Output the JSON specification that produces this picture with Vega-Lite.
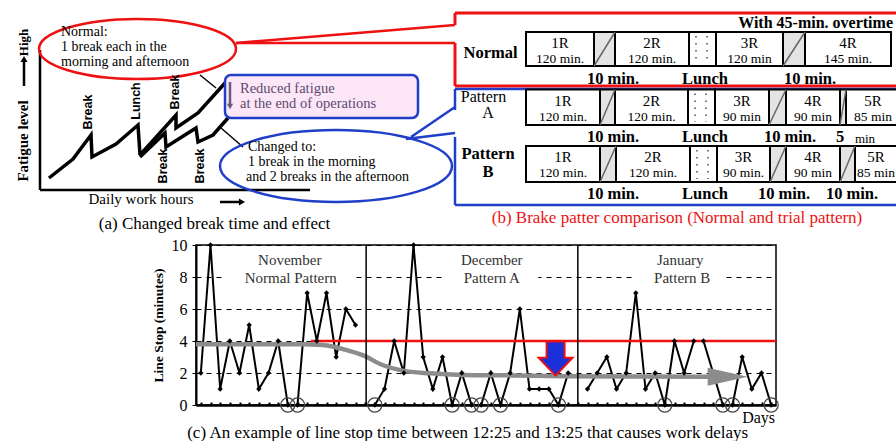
{
"$schema": "https://vega.github.io/schema/vega-lite/v6.json",
"padding": 0,
"background": "white",
"config": {"view": {"stroke": null}, "font": "Liberation Serif"},
"datasets": {
  "fatigue": [
    {"series": "common", "seq": 1, "x": 0.9, "y": 1.2},
    {"series": "common", "seq": 2, "x": 3.3, "y": 3.1},
    {"series": "common", "seq": 3, "x": 5.1, "y": 5.5},
    {"series": "common", "seq": 4, "x": 5.2, "y": 3.3},
    {"series": "common", "seq": 5, "x": 7.6, "y": 4.6},
    {"series": "common", "seq": 6, "x": 9.8, "y": 6.5},
    {"series": "common", "seq": 7, "x": 10.0, "y": 3.5},
    {"series": "normal", "seq": 1, "x": 10.0, "y": 3.5},
    {"series": "normal", "seq": 2, "x": 13.6, "y": 7.5},
    {"series": "normal", "seq": 3, "x": 13.6, "y": 6.2},
    {"series": "normal", "seq": 4, "x": 15.8, "y": 7.7},
    {"series": "normal", "seq": 5, "x": 18.5, "y": 10.7},
    {"series": "changed", "seq": 1, "x": 10.0, "y": 3.3},
    {"series": "changed", "seq": 2, "x": 12.5, "y": 5.7},
    {"series": "changed", "seq": 3, "x": 12.6, "y": 4.3},
    {"series": "changed", "seq": 4, "x": 15.6, "y": 6.2},
    {"series": "changed", "seq": 5, "x": 15.8, "y": 4.8},
    {"series": "changed", "seq": 6, "x": 17.3, "y": 5.5},
    {"series": "changed", "seq": 7, "x": 18.8, "y": 7.2}
  ],
  "segs": [
    {"row": "Normal", "seg": "1R", "kind": "work", "x": 7.3, "x2": 14.1, "y": 3.2, "y2": 6.6, "xm": 10.7, "mins": "120 min."},
    {"row": "Normal", "seg": "", "kind": "break", "x": 14.1, "x2": 16.2, "y": 3.2, "y2": 6.6},
    {"row": "Normal", "seg": "2R", "kind": "work", "x": 16.2, "x2": 23.6, "y": 3.2, "y2": 6.6, "xm": 19.9, "mins": "120 min."},
    {"row": "Normal", "seg": "", "kind": "lunch", "x": 23.6, "x2": 26.3, "y": 3.2, "y2": 6.6},
    {"row": "Normal", "seg": "3R", "kind": "work", "x": 26.3, "x2": 33.0, "y": 3.2, "y2": 6.6, "xm": 29.65, "mins": "120 min"},
    {"row": "Normal", "seg": "", "kind": "break", "x": 33.0, "x2": 35.2, "y": 3.2, "y2": 6.6},
    {"row": "Normal", "seg": "4R", "kind": "work", "x": 35.2, "x2": 43.8, "y": 3.2, "y2": 6.6, "xm": 39.5, "mins": "145 min."},
    {"row": "Pattern A", "seg": "1R", "kind": "work", "x": 7.3, "x2": 14.7, "y": 8.95, "y2": 12.5, "xm": 11.0, "mins": "120 min."},
    {"row": "Pattern A", "seg": "", "kind": "break", "x": 14.7, "x2": 16.2, "y": 8.95, "y2": 12.5},
    {"row": "Pattern A", "seg": "2R", "kind": "work", "x": 16.2, "x2": 23.5, "y": 8.95, "y2": 12.5, "xm": 19.85, "mins": "120 min."},
    {"row": "Pattern A", "seg": "", "kind": "lunch", "x": 23.5, "x2": 26.2, "y": 8.95, "y2": 12.5},
    {"row": "Pattern A", "seg": "3R", "kind": "work", "x": 26.2, "x2": 31.6, "y": 8.95, "y2": 12.5, "xm": 28.9, "mins": "90 min"},
    {"row": "Pattern A", "seg": "", "kind": "break", "x": 31.6, "x2": 33.3, "y": 8.95, "y2": 12.5},
    {"row": "Pattern A", "seg": "4R", "kind": "work", "x": 33.3, "x2": 38.7, "y": 8.95, "y2": 12.5, "xm": 36.0, "mins": "90 min"},
    {"row": "Pattern A", "seg": "", "kind": "break", "x": 38.7, "x2": 39.3, "y": 8.95, "y2": 12.5},
    {"row": "Pattern A", "seg": "5R", "kind": "work", "x": 39.3, "x2": 47, "y": 8.95, "y2": 12.5, "xm": 42.0, "mins": "85 min"},
    {"row": "Pattern B", "seg": "1R", "kind": "work", "x": 7.3, "x2": 14.7, "y": 14.6, "y2": 18.2, "xm": 11.0, "mins": "120 min."},
    {"row": "Pattern B", "seg": "", "kind": "break", "x": 14.7, "x2": 16.3, "y": 14.6, "y2": 18.2},
    {"row": "Pattern B", "seg": "2R", "kind": "work", "x": 16.3, "x2": 23.7, "y": 14.6, "y2": 18.2, "xm": 20.0, "mins": "120 min."},
    {"row": "Pattern B", "seg": "", "kind": "lunch", "x": 23.7, "x2": 26.4, "y": 14.6, "y2": 18.2},
    {"row": "Pattern B", "seg": "3R", "kind": "work", "x": 26.4, "x2": 31.7, "y": 14.6, "y2": 18.2, "xm": 29.05, "mins": "90 min."},
    {"row": "Pattern B", "seg": "", "kind": "break", "x": 31.7, "x2": 33.3, "y": 14.6, "y2": 18.2},
    {"row": "Pattern B", "seg": "4R", "kind": "work", "x": 33.3, "x2": 38.7, "y": 14.6, "y2": 18.2, "xm": 36.0, "mins": "90 min"},
    {"row": "Pattern B", "seg": "", "kind": "break", "x": 38.7, "x2": 40.2, "y": 14.6, "y2": 18.2},
    {"row": "Pattern B", "seg": "5R", "kind": "work", "x": 40.2, "x2": 47, "y": 14.6, "y2": 18.2, "xm": 42.3, "mins": "85 min"}
  ],
  "stops": [
    {"month": "Nov", "day": 0, "stop": 2}, {"month": "Nov", "day": 1, "stop": 10}, {"month": "Nov", "day": 2, "stop": 1},
    {"month": "Nov", "day": 3, "stop": 4}, {"month": "Nov", "day": 4, "stop": 2}, {"month": "Nov", "day": 5, "stop": 5},
    {"month": "Nov", "day": 6, "stop": 1}, {"month": "Nov", "day": 7, "stop": 2}, {"month": "Nov", "day": 8, "stop": 4},
    {"month": "Nov", "day": 9, "stop": 0}, {"month": "Nov", "day": 10, "stop": 0}, {"month": "Nov", "day": 11, "stop": 7},
    {"month": "Nov", "day": 12, "stop": 4}, {"month": "Nov", "day": 13, "stop": 7}, {"month": "Nov", "day": 14, "stop": 3},
    {"month": "Nov", "day": 15, "stop": 6}, {"month": "Nov", "day": 16, "stop": 5},
    {"month": "Dec", "day": 18, "stop": 0}, {"month": "Dec", "day": 19, "stop": 1}, {"month": "Dec", "day": 20, "stop": 4},
    {"month": "Dec", "day": 21, "stop": 2}, {"month": "Dec", "day": 22, "stop": 10}, {"month": "Dec", "day": 23, "stop": 3},
    {"month": "Dec", "day": 24, "stop": 1}, {"month": "Dec", "day": 25, "stop": 3}, {"month": "Dec", "day": 26, "stop": 0},
    {"month": "Dec", "day": 27, "stop": 2}, {"month": "Dec", "day": 28, "stop": 0}, {"month": "Dec", "day": 29, "stop": 0},
    {"month": "Dec", "day": 30, "stop": 2}, {"month": "Dec", "day": 31, "stop": 0}, {"month": "Dec", "day": 32, "stop": 2},
    {"month": "Dec", "day": 33, "stop": 6}, {"month": "Dec", "day": 34, "stop": 1}, {"month": "Dec", "day": 35, "stop": 1},
    {"month": "Dec", "day": 36, "stop": 1}, {"month": "Dec", "day": 37, "stop": 0}, {"month": "Dec", "day": 38, "stop": 2},
    {"month": "Jan", "day": 40, "stop": 1}, {"month": "Jan", "day": 41, "stop": 2}, {"month": "Jan", "day": 42, "stop": 3},
    {"month": "Jan", "day": 43, "stop": 1}, {"month": "Jan", "day": 44, "stop": 2}, {"month": "Jan", "day": 45, "stop": 7},
    {"month": "Jan", "day": 46, "stop": 1}, {"month": "Jan", "day": 47, "stop": 2}, {"month": "Jan", "day": 48, "stop": 0},
    {"month": "Jan", "day": 49, "stop": 4}, {"month": "Jan", "day": 50, "stop": 2}, {"month": "Jan", "day": 51, "stop": 4},
    {"month": "Jan", "day": 52, "stop": 4}, {"month": "Jan", "day": 54, "stop": 0}, {"month": "Jan", "day": 55, "stop": 0},
    {"month": "Jan", "day": 56, "stop": 3}, {"month": "Jan", "day": 57, "stop": 1}, {"month": "Jan", "day": 58, "stop": 2},
    {"month": "Jan", "day": 59, "stop": 0}
  ],
  "trend": [
    {"day": -0.5, "stop": 3.8}, {"day": 10.6, "stop": 3.8}, {"day": 12.6, "stop": 3.75}, {"day": 15.0, "stop": 3.45},
    {"day": 16.8, "stop": 3.1}, {"day": 18.8, "stop": 2.5}, {"day": 20.9, "stop": 2.15}, {"day": 23.7, "stop": 1.98},
    {"day": 27.1, "stop": 1.88}, {"day": 32.3, "stop": 1.85}, {"day": 37.5, "stop": 1.8}, {"day": 52.5, "stop": 1.77}
  ]
},
"spacing": 1,
"bounds": "full",
"vconcat": [
  {"hconcat": [
    {
      "width": 450, "height": 235,
      "encoding": {
        "x": {"field": "x", "type": "quantitative", "scale": {"domain": [-3.7, 41.3], "nice": false, "zero": false}, "axis": null},
        "y": {"field": "y", "type": "quantitative", "scale": {"domain": [-4.5, 19], "nice": false, "zero": false}, "axis": null}
      },
      "layer": [
        {"data": {"values": [{"x": 0, "y": 0, "x2": 0, "y2": 14}, {"x": 0, "y": 0, "x2": 27, "y2": 0}]},
         "mark": {"type": "rule", "color": "black", "strokeWidth": 2.5},
         "encoding": {"x2": {"field": "x2"}, "y2": {"field": "y2"}}},
        {"data": {"name": "fatigue"},
         "mark": {"type": "line", "color": "black", "strokeWidth": 3.5},
         "encoding": {"detail": {"field": "series", "type": "nominal"}, "order": {"field": "seq", "type": "quantitative"}}},
        {"data": {"values": [{"x": 16.0, "y": 11.5, "x2": 17.6, "y2": 10.2}, {"x": 18.1, "y": 6.2, "x2": 20.3, "y2": 4.3}]},
         "mark": {"type": "rule", "color": "black", "strokeWidth": 1.5},
         "encoding": {"x2": {"field": "x2"}, "y2": {"field": "y2"}}},
        {"data": {"values": [{"x": 9.75, "y": 14.1}]},
         "mark": {"type": "point", "shape": "M-1,0A1,0.305 0 1,1 1,0A1,0.305 0 1,1 -1,0Z", "size": 38809, "filled": false, "color": "#ee1111", "strokeWidth": 2.5, "opacity": 1},
         "encoding": {}},
        {"data": {"values": [{"x": 29.6, "y": 2.4}]},
         "mark": {"type": "point", "shape": "M-1,0A1,0.31 0 1,1 1,0A1,0.31 0 1,1 -1,0Z", "size": 53824, "filled": false, "color": "#1f3fc8", "strokeWidth": 2.5, "opacity": 1},
         "encoding": {}},
        {"data": {"values": [{"x": 18.5, "x2": 37.8, "y": 11.5, "y2": 7.2}]},
         "mark": {"type": "rect", "fill": "#fce6f7", "stroke": "#1f3fc8", "strokeWidth": 2.5, "cornerRadius": 6},
         "encoding": {"x2": {"field": "x2"}, "y2": {"field": "y2"}}},
        {"data": {"values": [{"x": 19.6, "y": 14.7, "x2": 41.5, "y2": 16.5}, {"x": 19.6, "y": 14.7, "x2": 41.5, "y2": 14.7}]},
         "mark": {"type": "rule", "color": "#ee1111", "strokeWidth": 2.5},
         "encoding": {"x2": {"field": "x2"}, "y2": {"field": "y2"}}},
        {"data": {"values": [{"x": 37.1, "y": 5.3, "x2": 41.5, "y2": 8.3}, {"x": 36.6, "y": 5.1, "x2": 41.5, "y2": 5.7}]},
         "mark": {"type": "rule", "color": "#1f3fc8", "strokeWidth": 2.5},
         "encoding": {"x2": {"field": "x2"}, "y2": {"field": "y2"}}},
        {"data": {"values": [{"x": -1.6, "y": 10.4, "x2": -1.6, "y2": 12.9}, {"x": 18.0, "y": -1.2, "x2": 20.0, "y2": -1.2}]},
         "mark": {"type": "rule", "color": "black", "strokeWidth": 2.5},
         "encoding": {"x2": {"field": "x2"}, "y2": {"field": "y2"}}},
        {"data": {"values": [{"x": -1.6, "y": 13.1}]},
         "mark": {"type": "point", "shape": "triangle-up", "size": 50, "filled": true, "color": "black", "opacity": 1},
         "encoding": {}},
        {"data": {"values": [{"x": 20.2, "y": -1.2}]},
         "mark": {"type": "point", "shape": "triangle-right", "size": 50, "filled": true, "color": "black", "opacity": 1},
         "encoding": {}},
        {"data": {"values": [{"x": 19.0, "y": 10.8, "x2": 19.0, "y2": 8.6}]},
         "mark": {"type": "rule", "color": "#6b5b7b", "strokeWidth": 2.5},
         "encoding": {"x2": {"field": "x2"}, "y2": {"field": "y2"}}},
        {"data": {"values": [{"x": 19.0, "y": 8.35}]},
         "mark": {"type": "point", "shape": "triangle-down", "size": 40, "filled": true, "color": "#6b5b7b", "opacity": 1},
         "encoding": {}},
        {"data": {"values": [
            {"t": "Break", "x": 4.8, "y": 7.8}, {"t": "Lunch", "x": 9.6, "y": 8.9}, {"t": "Break", "x": 13.5, "y": 9.8},
            {"t": "Break", "x": 12.3, "y": 2.4}, {"t": "Break", "x": 16.0, "y": 2.4}]},
         "mark": {"type": "text", "angle": 270, "font": "Liberation Sans", "fontWeight": "bold", "fontSize": 12.5, "color": "black"},
         "encoding": {"text": {"field": "t"}}},
        {"data": {"values": [
            {"t": "Normal:", "x": 2.1, "y": 15.8}, {"t": "1 break each in the", "x": 2.1, "y": 14.3}, {"t": "morning and afternoon", "x": 2.1, "y": 12.8},
            {"t": "Changed to:", "x": 20.8, "y": 4.35}, {"t": "1 break in the morning", "x": 20.8, "y": 2.85}, {"t": "and 2 breaks in the afternoon", "x": 20.6, "y": 1.35}]},
         "mark": {"type": "text", "align": "left", "fontSize": 14, "color": "black"},
         "encoding": {"text": {"field": "t"}}},
        {"data": {"values": [{"t": "Reduced fatigue", "x": 20.0, "y": 10.1}, {"t": "at the end of operations", "x": 20.0, "y": 8.6}]},
         "mark": {"type": "text", "align": "left", "fontSize": 14.5, "color": "#5b4b6e"},
         "encoding": {"text": {"field": "t"}}},
        {"data": {"values": [{"t": "Fatigue level", "x": -1.7, "y": 4.9}]},
         "mark": {"type": "text", "angle": 270, "fontWeight": "bold", "fontSize": 15, "color": "black"},
         "encoding": {"text": {"field": "t"}}},
        {"data": {"values": [{"t": "High", "x": -1.6, "y": 14.75}]},
         "mark": {"type": "text", "angle": 270, "fontWeight": "bold", "fontSize": 13, "color": "black"},
         "encoding": {"text": {"field": "t"}}},
        {"data": {"values": [{"t": "Daily work hours", "x": 10.1, "y": -0.9}]},
         "mark": {"type": "text", "fontSize": 15, "color": "black"},
         "encoding": {"text": {"field": "t"}}},
        {"data": {"values": [{"t": "(a) Changed break time and effect", "x": 17.45, "y": -3.4}]},
         "mark": {"type": "text", "fontSize": 17, "color": "black"},
         "encoding": {"text": {"field": "t"}}}
      ]
    },
    {
      "width": 446, "height": 235,
      "encoding": {
        "x": {"field": "x", "type": "quantitative", "scale": {"domain": [0, 44.6], "nice": false, "zero": false}, "axis": null},
        "y": {"field": "y", "type": "quantitative", "scale": {"domain": [0, 23.5], "nice": false, "zero": false, "reverse": true}, "axis": null}
      },
      "layer": [
        {"data": {"values": [{"x": 0.2, "y": 1.3, "x2": 45.5, "y2": 1.3}, {"x": 0.2, "y": 8.6, "x2": 45.5, "y2": 8.6}, {"x": 0.2, "y": 1.3, "x2": 0.2, "y2": 2.5}, {"x": 0.2, "y": 4.3, "x2": 0.2, "y2": 8.6}]},
         "mark": {"type": "rule", "color": "#ee1111", "strokeWidth": 3, "clip": true},
         "encoding": {"x2": {"field": "x2"}, "y2": {"field": "y2"}}},
        {"data": {"values": [{"x": 0.2, "y": 8.9, "x2": 45.5, "y2": 8.9}, {"x": 0.2, "y": 20.5, "x2": 45.5, "y2": 20.5}, {"x": 0.2, "y": 8.9, "x2": 0.2, "y2": 11.0}, {"x": 0.2, "y": 13.7, "x2": 0.2, "y2": 20.5}]},
         "mark": {"type": "rule", "color": "#1f3fc8", "strokeWidth": 2.5, "clip": true},
         "encoding": {"x2": {"field": "x2"}, "y2": {"field": "y2"}}},
        {"data": {"name": "segs"}, "transform": [{"filter": "datum.kind !== 'break'"}],
         "mark": {"type": "rect", "fill": "white", "stroke": "black", "strokeWidth": 2, "clip": true},
         "encoding": {"x2": {"field": "x2"}, "y2": {"field": "y2"}}},
        {"data": {"name": "segs"}, "transform": [{"filter": "datum.kind === 'break'"}],
         "mark": {"type": "rect", "fill": "#e4e4e4", "stroke": "black", "strokeWidth": 2, "clip": true},
         "encoding": {"x2": {"field": "x2"}, "y2": {"field": "y2"}}},
        {"data": {"name": "segs"}, "transform": [{"filter": "datum.kind === 'break'"}],
         "mark": {"type": "rule", "color": "#666666", "strokeWidth": 1.5, "clip": true},
         "encoding": {"y": {"field": "y2", "type": "quantitative", "scale": {"domain": [0, 23.5], "nice": false, "zero": false, "reverse": true}, "axis": null}, "x2": {"field": "x2"}, "y2": {"field": "y"}}},
        {"data": {"name": "segs"}, "transform": [{"filter": "datum.kind === 'lunch'"}],
         "mark": {"type": "rule", "color": "#777777", "strokeWidth": 2, "strokeDash": [1.5, 5.5], "xOffset": 7, "yOffset": 4, "y2Offset": -3},
         "encoding": {"y2": {"field": "y2"}}},
        {"data": {"name": "segs"}, "transform": [{"filter": "datum.kind === 'lunch'"}],
         "mark": {"type": "rule", "color": "#777777", "strokeWidth": 2, "strokeDash": [1.5, 5.5], "xOffset": -9, "yOffset": 4, "y2Offset": -3},
         "encoding": {"x": {"field": "x2", "type": "quantitative", "scale": {"domain": [0, 44.6], "nice": false, "zero": false}, "axis": null}, "y2": {"field": "y2"}}},
        {"data": {"name": "segs"}, "transform": [{"filter": "datum.kind === 'work'"}],
         "mark": {"type": "text", "fontSize": 15, "dy": 11, "color": "black", "clip": true},
         "encoding": {"x": {"field": "xm", "type": "quantitative", "scale": {"domain": [0, 44.6], "nice": false, "zero": false}, "axis": null}, "text": {"field": "seg"}}},
        {"data": {"name": "segs"}, "transform": [{"filter": "datum.kind === 'work'"}],
         "mark": {"type": "text", "fontSize": 13.5, "dy": 27, "color": "black", "clip": true},
         "encoding": {"x": {"field": "xm", "type": "quantitative", "scale": {"domain": [0, 44.6], "nice": false, "zero": false}, "axis": null}, "text": {"field": "mins"}}},
        {"data": {"values": [
            {"t": "10 min.", "x": 16.0, "y": 7.9}, {"t": "Lunch", "x": 25.2, "y": 7.9}, {"t": "10 min.", "x": 35.7, "y": 7.9},
            {"t": "10 min.", "x": 16.0, "y": 13.7}, {"t": "Lunch", "x": 25.2, "y": 13.7}, {"t": "10 min.", "x": 33.7, "y": 13.7}, {"t": "5", "x": 38.7, "y": 13.7},
            {"t": "10 min.", "x": 16.0, "y": 19.4}, {"t": "Lunch", "x": 25.2, "y": 19.4}, {"t": "10 min.", "x": 33.1, "y": 19.4}, {"t": "10 min.", "x": 39.9, "y": 19.4}]},
         "mark": {"type": "text", "fontSize": 16.5, "fontWeight": "bold", "color": "black"},
         "encoding": {"text": {"field": "t"}}},
        {"data": {"values": [{"t": "min", "x": 41.2, "y": 13.9}]},
         "mark": {"type": "text", "fontSize": 13, "color": "black"},
         "encoding": {"text": {"field": "t"}}},
        {"data": {"values": [{"t": "Pattern", "x": 3.05, "y": 9.7}, {"t": "A", "x": 3.5, "y": 11.3}]},
         "mark": {"type": "text", "fontSize": 16, "color": "black"},
         "encoding": {"text": {"field": "t"}}},
        {"data": {"values": [{"t": "Normal", "x": 3.75, "y": 5.3}, {"t": "Pattern", "x": 3.5, "y": 15.4}, {"t": "B", "x": 3.5, "y": 17.2}]},
         "mark": {"type": "text", "fontSize": 16.5, "fontWeight": "bold", "color": "black"},
         "encoding": {"text": {"field": "t"}}},
        {"data": {"values": [{"t": "With 45-min. overtime", "x": 44.0, "y": 2.3}]},
         "mark": {"type": "text", "fontSize": 16, "fontWeight": "bold", "align": "right", "color": "black"},
         "encoding": {"text": {"field": "t"}}},
        {"data": {"values": [{"t": "(b) Brake patter comparison (Normal and trial pattern)", "x": 22.4, "y": 21.8}]},
         "mark": {"type": "text", "fontSize": 17, "color": "#ee1111"},
         "encoding": {"text": {"field": "t"}}}
      ]
    }
  ], "spacing": 0, "bounds": "flush"},
  {"hconcat": [
    {"width": 1, "height": 160, "data": {"values": [{"v": 0}]}, "mark": {"type": "point", "opacity": 0}},
    {
      "width": 580, "height": 160,
      "view": {"stroke": "black", "strokeWidth": 1.5},
      "encoding": {
        "x": {"field": "day", "type": "quantitative", "scale": {"domain": [-0.5, 59.5], "nice": false, "zero": false},
              "axis": {"title": null, "labels": false, "grid": false, "domainWidth": 2.5, "domainColor": "black", "tickColor": "black", "tickSize": -3, "tickWidth": 2,
                       "values": [0,1,2,3,4,5,6,7,8,9,10,11,12,13,14,15,16,17,18,19,20,21,22,23,24,25,26,27,28,29,30,31,32,33,34,35,36,37,38,39,40,41,42,43,44,45,46,47,48,49,50,51,52,53,54,55,56,57,58,59]}},
        "y": {"field": "stop", "type": "quantitative", "scale": {"domain": [0, 10], "nice": false, "zero": false},
              "axis": {"title": "Line Stop (minutes)", "values": [0, 2, 4, 6, 8, 10], "grid": true, "gridColor": "black", "gridDash": [5, 5], "gridWidth": 1,
                       "domainWidth": 2, "domainColor": "black", "tickColor": "black", "tickSize": 4, "labelFont": "Liberation Serif", "labelFontSize": 16, "labelColor": "black", "labelPadding": 5,
                       "titleFont": "Liberation Serif", "titleFontSize": 13.5, "titleFontWeight": "bold", "titleColor": "black", "titlePadding": 6}}
      },
      "layer": [
        {"data": {"values": [{"day": 2.5, "day2": 15.95, "stop": 7.45, "stop2": 8.45}, {"day": 25.05, "day2": 34.9, "stop": 7.45, "stop2": 8.45}, {"day": 45.0, "day2": 54.2, "stop": 7.45, "stop2": 8.45}]},
         "mark": {"type": "rect", "fill": "white"},
         "encoding": {"x2": {"field": "day2"}, "y2": {"field": "stop2"}}},
        {"data": {"name": "stops"},
         "mark": {"type": "line", "color": "black", "strokeWidth": 2},
         "encoding": {"detail": {"field": "month", "type": "nominal"}}},
        {"data": {"name": "trend"},
         "mark": {"type": "line", "color": "#8c8c8c", "strokeWidth": 4.5, "interpolate": "monotone"},
         "encoding": {}},
        {"data": {"values": [{"day": 54.5, "stop": 1.77}]},
         "mark": {"type": "point", "shape": "M-1,-0.45L1,0L-1,0.45Z", "size": 1600, "filled": true, "color": "#8c8c8c", "opacity": 1},
         "encoding": {}},
        {"data": {"values": [{"day": 11.4, "day2": 59.5, "stop": 4}]},
         "mark": {"type": "rule", "color": "#ee1111", "strokeWidth": 2.5},
         "encoding": {"x2": {"field": "day2"}}},
        {"data": {"values": [{"day": 17.1, "stop": 0, "stop2": 10}, {"day": 39.0, "stop": 0, "stop2": 10}]},
         "mark": {"type": "rule", "color": "black", "strokeWidth": 1.5},
         "encoding": {"y2": {"field": "stop2"}}},
        {"data": {"name": "stops"},
         "mark": {"type": "point", "shape": "diamond", "size": 28, "filled": true, "color": "black", "opacity": 1},
         "encoding": {}},
        {"data": {"name": "stops"}, "transform": [{"filter": "datum.stop === 0"}],
         "mark": {"type": "point", "shape": "circle", "size": 200, "filled": false, "color": "#444444", "strokeWidth": 1.2, "opacity": 1},
         "encoding": {}},
        {"data": {"values": [{"day": 36.7, "stop": 2.9}]},
         "mark": {"type": "point", "shape": "M-0.53,-1L0.53,-1L0.53,-0.05L1,-0.05L0,1L-1,-0.05L-0.53,-0.05Z", "size": 1156, "filled": true, "fill": "#1a30d8", "stroke": "#ee1111", "strokeWidth": 2, "opacity": 1},
         "encoding": {}},
        {"data": {"values": [
            {"t": "November", "day": 9.2, "stop": 9.08}, {"t": "Normal Pattern", "day": 9.3, "stop": 7.94},
            {"t": "December", "day": 30.1, "stop": 9.08}, {"t": "Pattern A", "day": 30.1, "stop": 7.94},
            {"t": "January", "day": 49.6, "stop": 9.08}, {"t": "Pattern B", "day": 49.8, "stop": 7.94}]},
         "mark": {"type": "text", "fontSize": 15, "color": "#333333"},
         "encoding": {"text": {"field": "t"}}},
        {"data": {"values": [{"t": "Days", "day": 57.7, "stop": -0.8}]},
         "mark": {"type": "text", "fontSize": 16, "color": "black"},
         "encoding": {"text": {"field": "t"}}},
        {"data": {"values": [{"t": "(c) An example of line stop time between 12:25 and 13:25 that causes work delays", "day": 27.6, "stop": -1.75}]},
         "mark": {"type": "text", "fontSize": 17, "color": "black"},
         "encoding": {"text": {"field": "t"}}}
      ]
    }
  ], "spacing": 192, "bounds": "flush"}
]
}
